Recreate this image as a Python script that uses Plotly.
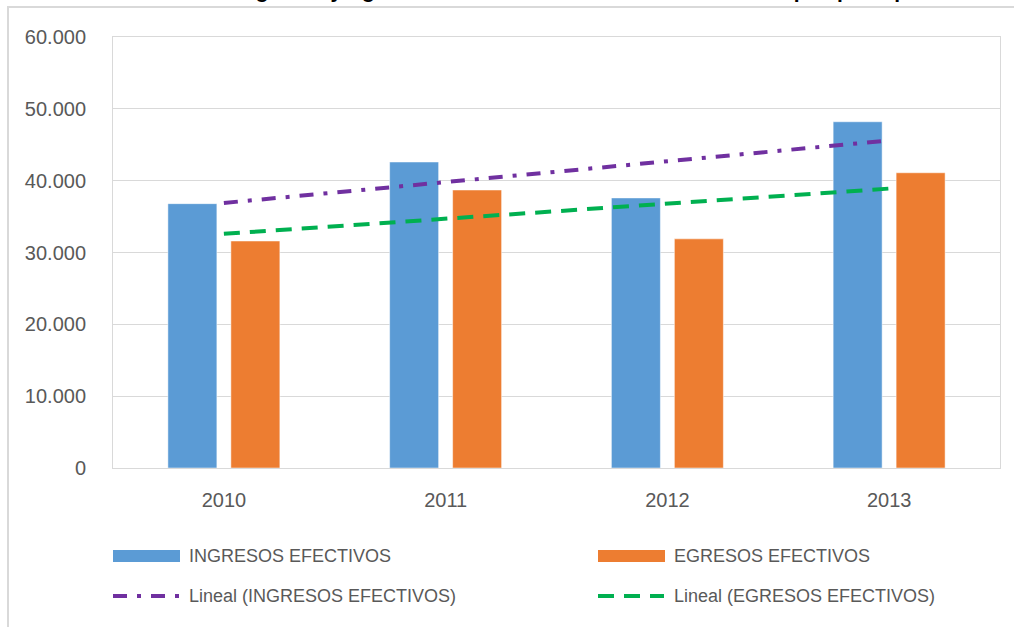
import plotly.graph_objects as go

years = ['2010', '2011', '2012', '2013']
ingresos = [36800, 42600, 37600, 48200]
egresos = [31600, 38700, 31900, 41100]

# trend line end points (2010 and 2013)
trend_years = ['2010', '2013']
trend_ingresos = [36900, 45600]
trend_egresos = [32600, 38900]

blue = '#5B9BD5'
orange = '#ED7D31'
purple = '#7030A0'
green = '#00B050'
grey_txt = '#595959'
font_name = 'Liberation Sans'

fig = go.Figure()
fig.add_trace(go.Bar(x=years, y=ingresos, name='INGRESOS EFECTIVOS',
                     marker=dict(color=blue, line=dict(color='white', width=0.5))))
fig.add_trace(go.Bar(x=years, y=egresos, name='EGRESOS EFECTIVOS',
                     marker=dict(color=orange, line=dict(color='white', width=0.5))))
fig.add_trace(go.Scatter(x=trend_years, y=trend_ingresos, mode='lines',
                         name='Lineal (INGRESOS EFECTIVOS)',
                         line=dict(color=purple, width=4, dash='14px,10px,4px,10px')))
fig.add_trace(go.Scatter(x=trend_years, y=trend_egresos, mode='lines',
                         name='Lineal (EGRESOS EFECTIVOS)',
                         line=dict(color=green, width=4, dash='16px,10px')))

fig.update_layout(
    width=1014, height=627,
    margin=dict(l=113, r=14, t=37, b=159),
    paper_bgcolor='white', plot_bgcolor='white',
    barmode='group', bargap=0.432, bargroupgap=0.222,
    separators=',.',
    showlegend=False,
    font=dict(family=font_name, color=grey_txt, size=19),
)
fig.update_yaxes(range=[0, 60000], dtick=10000, tickformat=',d',
                 gridcolor='#D9D9D9', gridwidth=1, zeroline=False,
                 showline=True, linecolor='#D9D9D9', mirror=True,
                 ticks='', ticklabelstandoff=22,
                 tickfont=dict(size=20, color=grey_txt))
fig.update_xaxes(showline=True, linecolor='#D9D9D9', mirror=True,
                 ticks='', ticklabelstandoff=14,
                 tickfont=dict(size=20, color=grey_txt))

# outer chart border
fig.add_shape(type='rect', xref='paper', yref='paper',
              x0=(8 - 113) / 887, x1=(1030 - 113) / 887,
              y0=(468 - 640) / 431, y1=(468 - 7) / 431,
              line=dict(color='#D9D9D9', width=2), layer='below')

# clipped title at the top edge
fig.add_annotation(xref='paper', yref='paper', x=(515 - 113) / 887, y=(468 - 4) / 431,
                   xanchor='center', yanchor='bottom', showarrow=False,
                   text='<b>Gráfica N° 1: Ingresos y Egresos efectivos de la sede central del campus principal</b>',
                   font=dict(family=font_name, size=21, color='black'))

# legend drawn manually (wide bar swatches like the original)
def px_x(p):
    return (p - 113) / 887

def px_y(p):
    return (468 - p) / 431

legend_items = [
    ('rect', blue, None, 'INGRESOS EFECTIVOS', 113, 556),
    ('rect', orange, None, 'EGRESOS EFECTIVOS', 598, 556),
    ('line', purple, '14px,10px,4px,10px', 'Lineal (INGRESOS EFECTIVOS)', 113, 596),
    ('line', green, '16px,10px', 'Lineal (EGRESOS EFECTIVOS)', 598, 596),
]
for kind, col, dash, label, x0, yc in legend_items:
    if kind == 'rect':
        fig.add_shape(type='rect', xref='paper', yref='paper',
                      x0=px_x(x0), x1=px_x(x0 + 67), y0=px_y(yc + 6), y1=px_y(yc - 6),
                      fillcolor=col, line=dict(width=0))
    else:
        fig.add_shape(type='line', xref='paper', yref='paper',
                      x0=px_x(x0), x1=px_x(x0 + 66), y0=px_y(yc), y1=px_y(yc),
                      line=dict(color=col, width=4, dash=dash))
    fig.add_annotation(xref='paper', yref='paper', x=px_x(x0 + 74), y=px_y(yc),
                       xanchor='left', yanchor='middle', showarrow=False,
                       text=label, font=dict(family=font_name, size=18, color=grey_txt))

# page body has a default 8px margin; drop it so the chart sits at the corner
fig.write_html("out.html", config={'displayModeBar': False},
               post_script="document.body.style.margin='0';")
